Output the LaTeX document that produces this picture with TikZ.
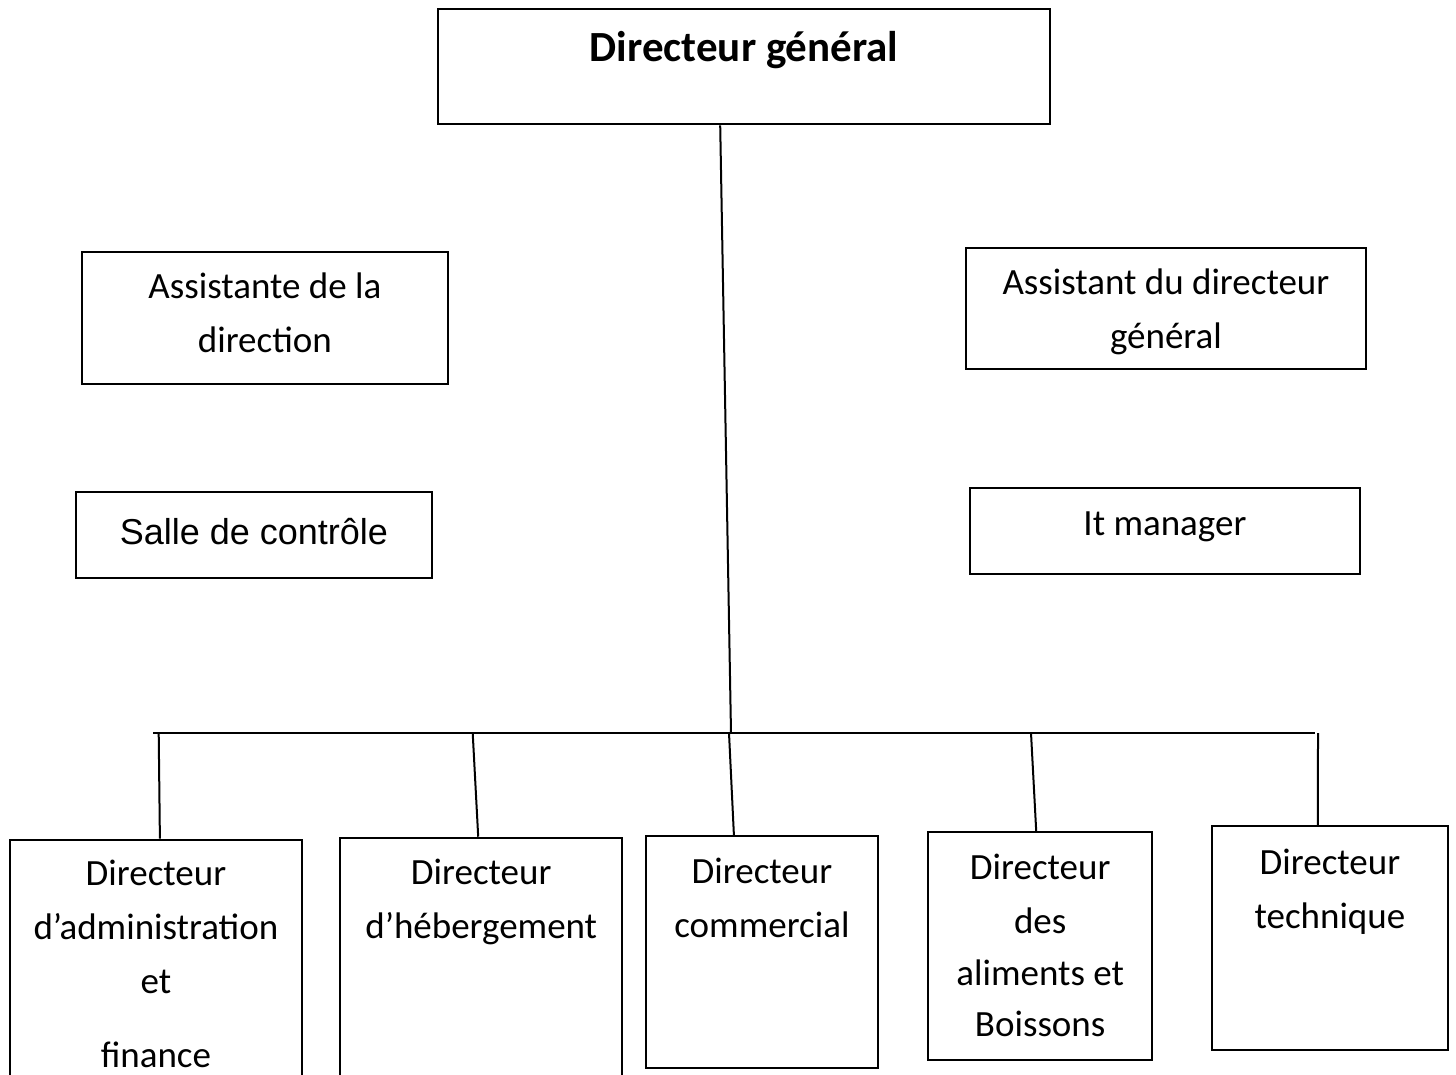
\documentclass[tikz,border=0pt]{standalone}
\usepackage{fontspec}
\setmainfont{Carlito}
\newfontfamily\arialfont{Liberation Sans}

% box text: width, height, first baseline, lines
\newcommand{\orgtext}[4]{\parbox[t][#2][t]{#1}{\centering\rule{0pt}{#3}#4}}

\begin{document}
\begin{tikzpicture}[x=1pt, y=-1pt,
    post/.style={draw, line width=2.4pt, inner sep=0pt, anchor=north west},
    link/.style={draw, line width=2pt},
    every node/.style={font=\fontsize{37}{54}\selectfont}
]
    \useasboundingbox (0,0) rectangle (1456,1074);
    \clip (0,0) rectangle (1456,1074);

    % Direction
    \node [post] (dg) at (437,8) {\orgtext{612pt}{115pt}{52pt}{\fontsize{43}{54}\selectfont\bfseries Directeur général}};

    % Staff
    \node [post] (asst) at (80.7,251) {\orgtext{366pt}{132pt}{46pt}{Assistante de la\\direction}};
    \node [post] (salle) at (74.7,491) {\orgtext{356pt}{86pt}{52pt}{\arialfont\fontsize{36}{54}\selectfont Salle de contrôle}};
    \node [post] (adg) at (964.7,247) {\orgtext{400pt}{121pt}{46pt}{Assistant du directeur\\général}};
    \node [post] (it) at (968.7,487) {\orgtext{390pt}{86pt}{47pt}{It manager}};

    % Directors
    \node [post] (admin) at (8.7,838.7) {\orgtext{292pt}{260pt}{46pt}{Directeur\\d’administration\\et\\[20pt]finance}};
    \node [post] (heb) at (339,836.7) {\orgtext{282pt}{260pt}{47pt}{Directeur\\d’hébergement}};
    \node [post] (com) at (644.7,835) {\orgtext{232pt}{232pt}{47pt}{Directeur\\commercial}};
    \node [post] (ali) at (927,831) {\orgtext{224pt}{228pt}{47pt}{Directeur\\des\\[-2pt]aliments et\\[-3pt]Boissons}};
    \node [post] (tech) at (1210.7,825) {\orgtext{236pt}{224pt}{48pt}{Directeur\\technique}};

    % Connections
    \coordinate (hub) at (731,733);
    \coordinate (busL) at (153,733);
    \coordinate (busR) at (1315,733);
    \path [link] ([xshift=-24pt]dg.south) -- (hub);
    \path [link] (busL) -- (busR);
    \foreach \n/\x/\dx in {admin/158.7/4, heb/472.7/-3, com/729/-28, ali/1031/-4, tech/1318/-12} {
        \coordinate (top-\n) at (\x,733);
        \path [link] (top-\n) -- ([xshift=\dx pt]\n.north);
    }

\end{tikzpicture}
\end{document}
